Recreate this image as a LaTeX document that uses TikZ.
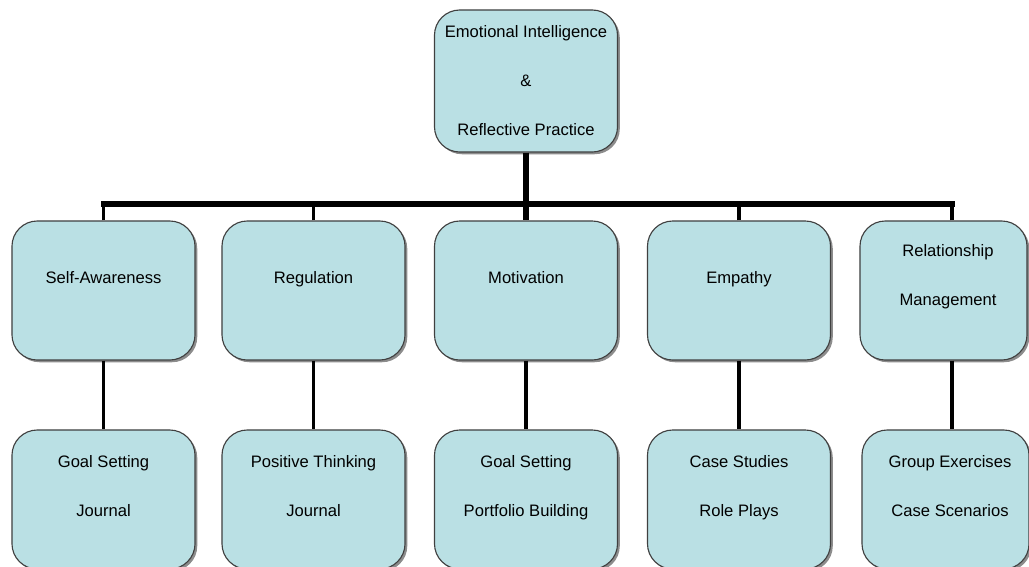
\documentclass[tikz,border=0pt]{standalone}
\usepackage{fontspec}
\setmainfont{Liberation Sans}
\usetikzlibrary{shadows}

\definecolor{boxfill}{RGB}{186,224,228}
\tikzset{
  box/.style={draw=black!75, line width=0.8pt, fill=boxfill, rounded corners=18pt,
    minimum width=4.575cm, minimum height=3.475cm,
    drop shadow={shadow xshift=1.6pt, shadow yshift=-1.6pt, fill=black!45, opacity=1}},
  lbl/.style={align=center, font=\fontsize{11.8}{35}\selectfont,
    execute at begin node=\strut, execute at end node=\strut},
  bar/.style={line width=3.6pt},
  link/.style={line width=2.2pt},
}

\begin{document}
\begin{tikzpicture}[x=0.025cm, y=-0.025cm]
  \useasboundingbox (0,0) rectangle (1029,566);
  \clip (0,0) rectangle (1029,566);

  % Top
  \node[box, minimum height=3.55cm] (ei) at (526,81) {};

  % Middle row
  \node[box] (sa)  at (103.5,290.5) {};
  \node[box] (reg) at (313.5,290.5) {};
  \node[box] (mot) at (526,290.5) {};
  \node[box] (emp) at (739,290.5) {};
  \node[box, minimum width=4.175cm] (rm) at (943.5,290.5) {};

  % Bottom row
  \node[box] (gsj) at (103.5,499.5) {};
  \node[box] (ptj) at (313.5,499.5) {};
  \node[box] (gsp) at (526,499.5) {};
  \node[box] (csr) at (739,499.5) {};
  \node[box, minimum width=4.175cm] (gec) at (945.5,499.5) {};

  % Connectors
  \coordinate (bar) at (526,204);
  \coordinate (rmx) at (952,0);
  \draw[bar] (ei.south) -- (mot.north);
  \draw[bar, line cap=rect] (sa.north |- bar) -- (bar -| rmx);
  \foreach \n in {sa,reg,emp}
    \draw[link] (\n.north) -- (\n.north |- bar);
  \draw[link] (rm.north -| rmx) -- (bar -| rmx);
  \draw[link] (sa.south) -- (gsj.north);
  \draw[link] (reg.south) -- (ptj.north);
  \draw[link] (mot.south) -- (gsp.north);
  \draw[link] (emp.south) -- (csr.north);
  \draw[link] (rm.south -| rmx) -- (gec.north -| rmx);

  % Labels
  \node[lbl] (eit) at (526,88) {Emotional Intelligence\\\&\\Reflective Practice};
  \node[lbl] (sat) at (103.5,274) {Self-Awareness};
  \node[lbl] (regt) at (313.5,274) {Regulation};
  \node[lbl] (mott) at (526,274) {Motivation};
  \node[lbl] (empt) at (739,274) {Empathy};
  \node[lbl] (rmt) at (948,282) {Relationship\\Management};
  \node[lbl] (gsjt) at (103.5,493) {Goal Setting\\Journal};
  \node[lbl] (ptjt) at (313.5,493) {Positive Thinking\\Journal};
  \node[lbl] (gspt) at (526,493) {Goal Setting\\Portfolio Building};
  \node[lbl] (csrt) at (739,493) {Case Studies\\Role Plays};
  \node[lbl] (gect) at (950,493) {Group Exercises\\Case Scenarios};
\end{tikzpicture}
\end{document}
